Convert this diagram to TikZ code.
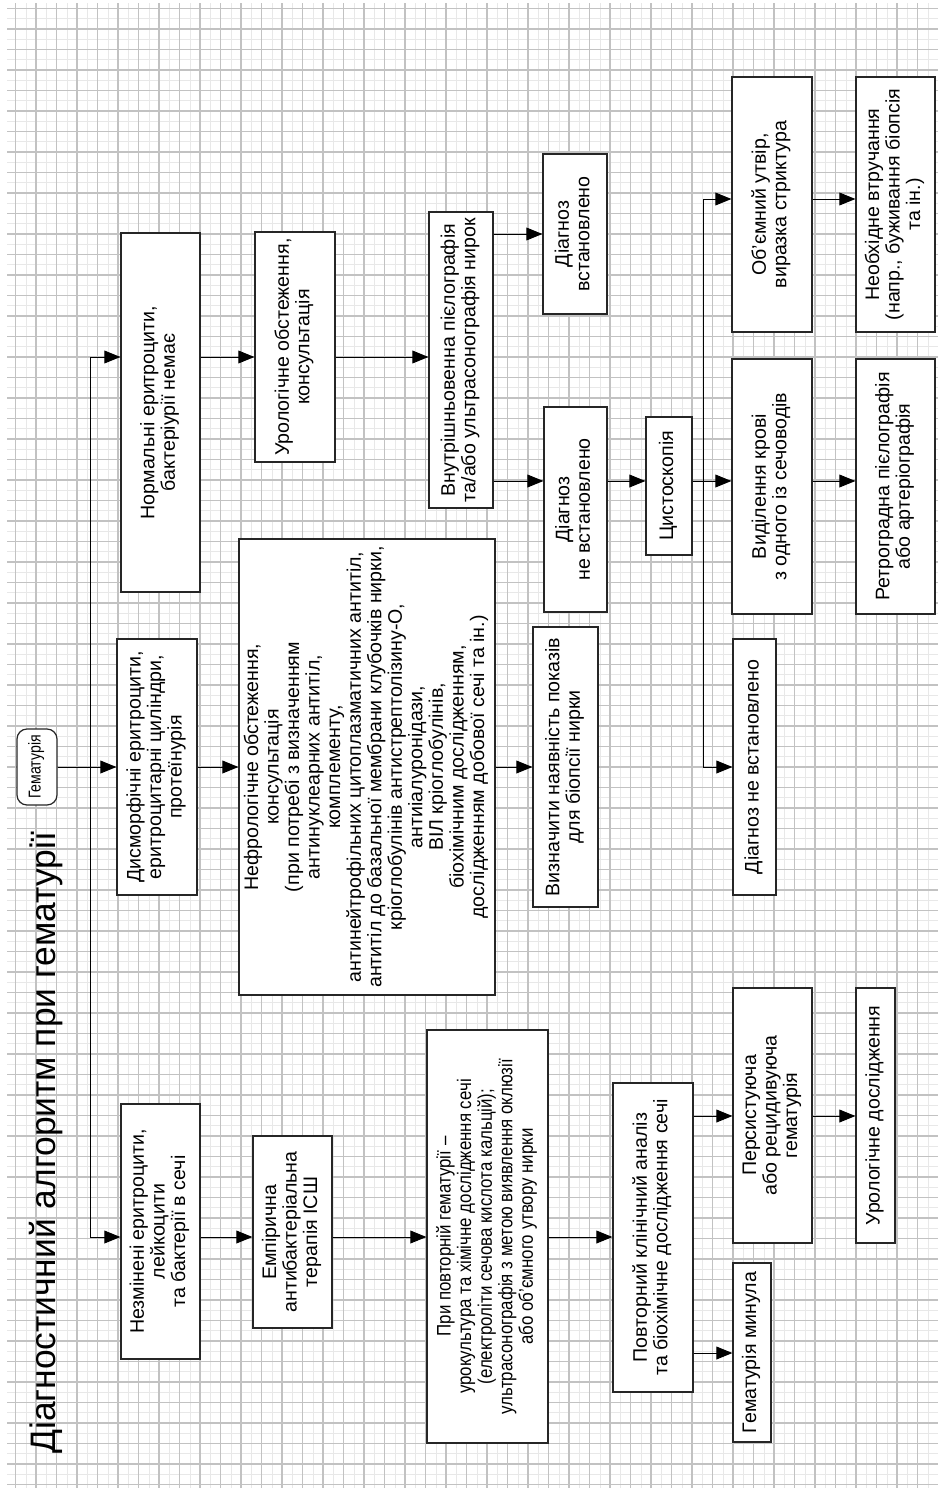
\documentclass[tikz,border=0pt]{standalone}
\usepackage{fontspec}
\setmainfont{Liberation Sans}
\usetikzlibrary{positioning, arrows.meta}

\newcommand{\vtext}[2][1]{\rotatebox{90}{\scalebox{#1}[1]{\begin{tabular}{@{}c@{}}#2\end{tabular}}}}

\begin{document}
\begin{tikzpicture}[
  x=0.5pt, y=-0.5pt,
  box/.style={draw=black!85, line width=0.6pt, fill=white, inner sep=0pt, font=\fontsize{9.8}{10.25}\selectfont},
  start/.style={box, rounded corners=5pt, font=\fontsize{8.6}{9}\selectfont},
  wh/.style 2 args={minimum width=#1*0.5pt, minimum height=#2*0.5pt},
  arr/.style={-{Triangle[length=8pt,width=6.4pt]}, line width=0.5pt},
  link/.style={line width=0.5pt},
  gridmaj/.style={draw=black!24, line width=0.75pt},
  gridmin/.style={draw=black!9, line width=0.4pt}
]
\useasboundingbox (0,0) rectangle (938,1488);

% ======================
% GRID PAPER
% ======================
\foreach \k in {0,...,44} \draw[gridmin] ({25.95+20.5*\k},3) -- ({25.95+20.5*\k},1488);
\foreach \k in {0,...,71} \draw[gridmin] (7,{18.55+20.5*\k}) -- (938,{18.55+20.5*\k});
\foreach \k in {0,...,44} \draw[gridmaj] ({15.7+20.5*\k},3) -- ({15.7+20.5*\k},1488);
\foreach \k in {0,...,72} \draw[gridmaj] (7,{8.3+20.5*\k}) -- (938,{8.3+20.5*\k});

\node[rotate=90, font=\fontsize{17.7}{20}\selectfont] (title) at (46,1143) {Діагностичний алгоритм при гематурії};

% ======================
% START AND FIRST SPLIT
% ======================
\node[start, wh={40}{76}] (hem) at (37,767) {\vtext[0.82]{Гематурія}};

\node[box, wh={79}{359}] (norm) at (160.5,412.5) {\vtext{Нормальні еритроцити,\\бактеріурії немає}};
\node[box, wh={80}{256}] (dysm) at (157,767) {\vtext{Дисморфічні еритроцити,\\еритроцитарні циліндри,\\протеїнурія}};
\node[box, wh={79}{255}] (unch) at (160.5,1231.5) {\vtext{Незмінені  еритроцити,\\лейкоцити\\та бактерії  в сечі}};

% ======================
% SECOND COLUMN
% ======================
\node[box, wh={80}{230}] (urol) at (295,347) {\vtext{Урологічне обстеження,\\консультація}};
\node[box, wh={256}{456}] (neph) at (367,767) {\vtext{Нефрологічне обстеження,\\консультація\\(при потребі з визначенням\\антинуклеарних антитіл,\\комплементу,\\антинейтрофільних цитоплазматичних антитіл,\\антитіл до базальної мембрани клубочків нирки,\\кріоглобулінів  антистрептолізину-О,\\антиіалуронідази,\\ВІЛ  кріоглобулінів,\\біохімічним дослідженням,\\дослідженням добової сечі та ін.)}};
\node[box, wh={79}{192}] (emp) at (292.5,1232) {\vtext{Емпірична\\антибактеріальна\\терапія ІСШ}};

% ======================
% THIRD COLUMN
% ======================
\node[box, wh={64}{296}] (ivp) at (461,360) {\vtext{Внутрішньовенна пієлографія\\та/або ультрасонографія нирок}};
\node[box, wh={65}{280}] (biop) at (565.5,767) {\vtext{Визначити наявність показів\\для біопсії нирки}};
\node[box, wh={121}{413}] (rep) at (487.5,1236.5) {\vtext[0.86]{При повторній гематурії –\\урокультура та хімічне дослідження сечі\\(електроліти  сечова кислота  кальцій);\\ультрасонографія з метою виявлення оклюзії\\або об’ємного утвору нирки}};

\node[box, wh={64}{160}] (dxyes) at (575,234) {\vtext{Діагноз\\встановлено}};
\node[box, wh={63}{205}] (dxno) at (575.5,509.5) {\vtext{Діагноз\\не встановлено}};
\node[box, wh={80}{309}] (again) at (653,1237.5) {\vtext{Повторний клінічний аналіз\\та біохімічне дослідження сечі}};
\node[box, wh={46}{138}] (cys) at (669,486) {\vtext{Цистоскопія}};

% ======================
% LAST COLUMNS
% ======================
\node[box, wh={80}{255}] (mass) at (772,204.5) {\vtext{Об’ємний утвір,\\виразка  стриктура}};
\node[box, wh={79}{255}] (interv) at (895.5,204.5) {\vtext{Необхідне втручання\\(напр.,  буживання  біопсія\\та ін.)}};
\node[box, wh={80}{255}] (blood) at (772,486.5) {\vtext{Виділення крові\\з одного із сечоводів}};
\node[box, wh={79}{255}] (retro) at (895.5,486.5) {\vtext{Ретроградна пієлографія\\або артеріографія}};
\node[box, wh={43}{256}] (dxno2) at (754.5,767) {\vtext{Діагноз не встановлено}};
\node[box, wh={79}{255}] (pers) at (772.5,1115.5) {\vtext{Персистуюча\\або рецидивуюча\\гематурія}};
\node[box, wh={38}{179}] (gone) at (752,1352.5) {\vtext{Гематурія минула}};
\node[box, wh={39}{255}] (urstudy) at (875.5,1115.5) {\vtext{Урологічне дослідження}};

% ======================
% CONNECTORS
% ======================
\coordinate (trunktop) at (90,357);
\coordinate (trunkbot) at (90,1237);
\coordinate (cysfork) at (703,481);
\coordinate (forktop) at (703,199);
\coordinate (forkbot) at (703,767);
\coordinate (ypers) at (0,1116);
\coordinate (ygone) at (0,1353);

\draw[link] (trunktop) -- (trunkbot);
\draw[arr] (hem) -- (dysm);
\draw[arr] (trunktop) -- (norm.west |- trunktop);
\draw[arr] (trunkbot) -- (unch.west |- trunkbot);

\draw[arr] (norm.east |- trunktop) -- (urol.west |- trunktop);
\draw[arr] (urol.east |- trunktop) -- (ivp.west |- trunktop);
\draw[arr] (dysm) -- (neph);
\draw[arr] (neph) -- (biop);
\draw[arr] (unch.east |- trunkbot) -- (emp.west |- trunkbot);
\draw[arr] (emp.east |- trunkbot) -- (rep.west |- trunkbot);
\draw[arr] (rep.east |- trunkbot) -- (again.west |- trunkbot);

\draw[arr] (ivp.east |- dxyes) -- (dxyes);
\draw[arr] (ivp.east |- cysfork) -- (dxno.west |- cysfork);
\draw[arr] (dxno.east |- cysfork) -- (cys.west |- cysfork);

\draw[link] (cys.east |- cysfork) -- (cysfork);
\draw[link] (forktop) -- (forkbot);
\draw[arr] (forktop) -- (mass.west |- forktop);
\draw[arr] (cysfork) -- (blood.west |- cysfork);
\draw[arr] (forkbot) -- (dxno2);
\draw[arr] (mass.east |- forktop) -- (interv.west |- forktop);
\draw[arr] (blood.east |- cysfork) -- (retro.west |- cysfork);

\draw[arr] (again.east |- ypers) -- (pers.west |- ypers);
\draw[arr] (again.east |- ygone) -- (gone.west |- ygone);
\draw[arr] (pers.east |- ypers) -- (urstudy.west |- ypers);

\end{tikzpicture}
\end{document}
